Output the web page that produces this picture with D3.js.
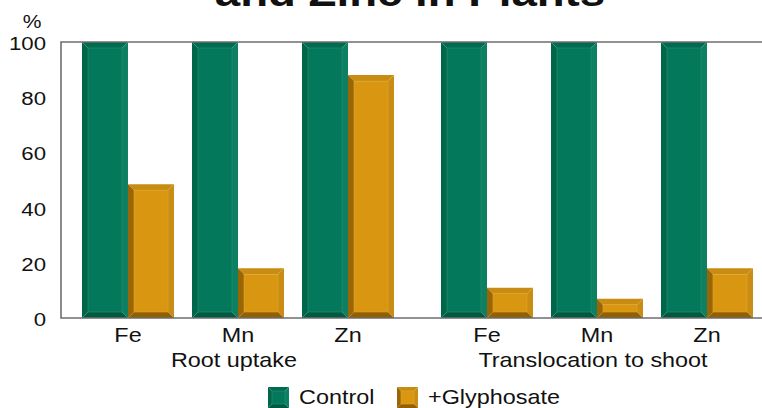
<!DOCTYPE html>
<html>
<head>
<meta charset="utf-8">
<script src="https://cdn.jsdelivr.net/npm/d3@7"></script>
<style>
  html, body { margin: 0; padding: 0; background: #fff; }
  svg { display: block; }
  text { font-family: "Liberation Sans", Arial, sans-serif; fill: #111; }
</style>
</head>
<body>
<svg id="chart" width="762" height="408"></svg>
<script>
// data
const sections = ["Root uptake", "Translocation to shoot"]
const elements = ["Fe", "Mn", "Zn"]
const series = ["Control", "+Glyphosate"]
const control = [100, 100, 100, 100, 100, 100]
const glyphosate = [48.5, 18, 88, 11, 7, 18]
const yTicks = [0, 20, 40, 60, 80, 100]

const svg = d3.select("#chart")
const stretch = 1.17  // the original text is a bit wide
const fontSize = 20

const plotLeft = 61
const plotRight = 762
const plotTop = 42
const plotBottom = 318

// bevel colours: face, top, left, right, bottom
const palettes = {
  "Control": { face: "#03785a", top: "#006c4f", left: "#00664a", right: "#0c8061", bottom: "#005a42", line: "#2a9275" },
  "+Glyphosate": { face: "#d99610", top: "#c98c13", left: "#9a6505", right: "#c98d13", bottom: "#925f03", line: "#e2a62e" }
}

const x0 = d3.scaleBand().domain(sections).range([73, 762]).paddingInner(29 / 359)
const x1 = d3.scaleBand().domain(elements).range([0, x0.bandwidth()])
const x2 = d3.scaleBand().domain(series).range([9, x1.bandwidth() - 9])
const y = d3.scaleLinear().domain([0, 100]).range([plotBottom, plotTop])

const rows = sections.flatMap((s, i) => elements.map((e, j) => ({
  section: s,
  element: e,
  values: [control[i * 3 + j], glyphosate[i * 3 + j]]
})))

function addText(parent, x, yPos, str, anchor, size) {
  return parent.append("text")
    .attr("transform", `translate(${x},${yPos}) scale(${stretch},1)`)
    .attr("text-anchor", anchor || "start")
    .style("font-size", (size || fontSize) + "px")
    .text(str)
}

// draws a box with a bevelled border
function drawBevel(parent, x, yPos, w, h, pal, b) {
  const g = parent.append("g")
  const pts = {
    top: [[x, yPos], [x + w, yPos], [x + w - b, yPos + b], [x + b, yPos + b]],
    left: [[x, yPos], [x + b, yPos + b], [x + b, yPos + h - b], [x, yPos + h]],
    right: [[x + w, yPos], [x + w, yPos + h], [x + w - b, yPos + h - b], [x + w - b, yPos + b]],
    bottom: [[x, yPos + h], [x + b, yPos + h - b], [x + w - b, yPos + h - b], [x + w, yPos + h]]
  }
  Object.keys(pts).forEach(k => {
    g.append("polygon")
      .attr("points", pts[k].map(p => p.join(",")).join(" "))
      .attr("fill", pal[k])
  })
  g.append("rect")
    .attr("x", x + b).attr("y", yPos + b)
    .attr("width", Math.max(0, w - 2 * b)).attr("height", Math.max(0, h - 2 * b))
    .attr("fill", pal.face)
    .attr("stroke", pal.line)
    .attr("stroke-width", 0.6)
  return g
}

// title, mostly cut off by the top edge
svg.append("text")
  .attr("transform", `translate(410,6) scale(${stretch},1)`)
  .attr("text-anchor", "middle")
  .style("font-size", "39px")
  .style("font-weight", "bold")
  .text("and Zinc in Plants")

// bars
const barLayer = svg.append("g")
rows.forEach(r => {
  const gx = x0(r.section) + x1(r.element)
  r.values.forEach((v, k) => {
    const s = series[k]
    drawBevel(barLayer, gx + x2(s), y(v), x2.bandwidth(), y(0) - y(v), palettes[s], 6)
  })
})

// frame
svg.append("path")
  .attr("d", `M${plotRight},${plotTop}H${plotLeft}V${plotBottom}H${plotRight}`)
  .attr("fill", "none")
  .attr("stroke", "#6e6e6e")
  .attr("stroke-width", 1.6)

// y tick labels
yTicks.forEach(t => {
  addText(svg, 46, y(t) + 8, t, "end", 19)
})
addText(svg, 32, 28, "%", "middle", 18)

// category labels
rows.forEach(r => {
  addText(svg, x0(r.section) + x1(r.element) + x1.bandwidth() / 2, 342, r.element, "middle")
})
sections.forEach(s => {
  addText(svg, x0(s) + x0.bandwidth() / 2 - 4, 367, s, "middle")
})

// legend
const legendX = [268, 397]
series.forEach((s, i) => {
  drawBevel(svg, legendX[i], 387, 21, 21, palettes[s], 4)
  addText(svg, legendX[i] + 31, 404, s, "start")
})
</script>
</body>
</html>
